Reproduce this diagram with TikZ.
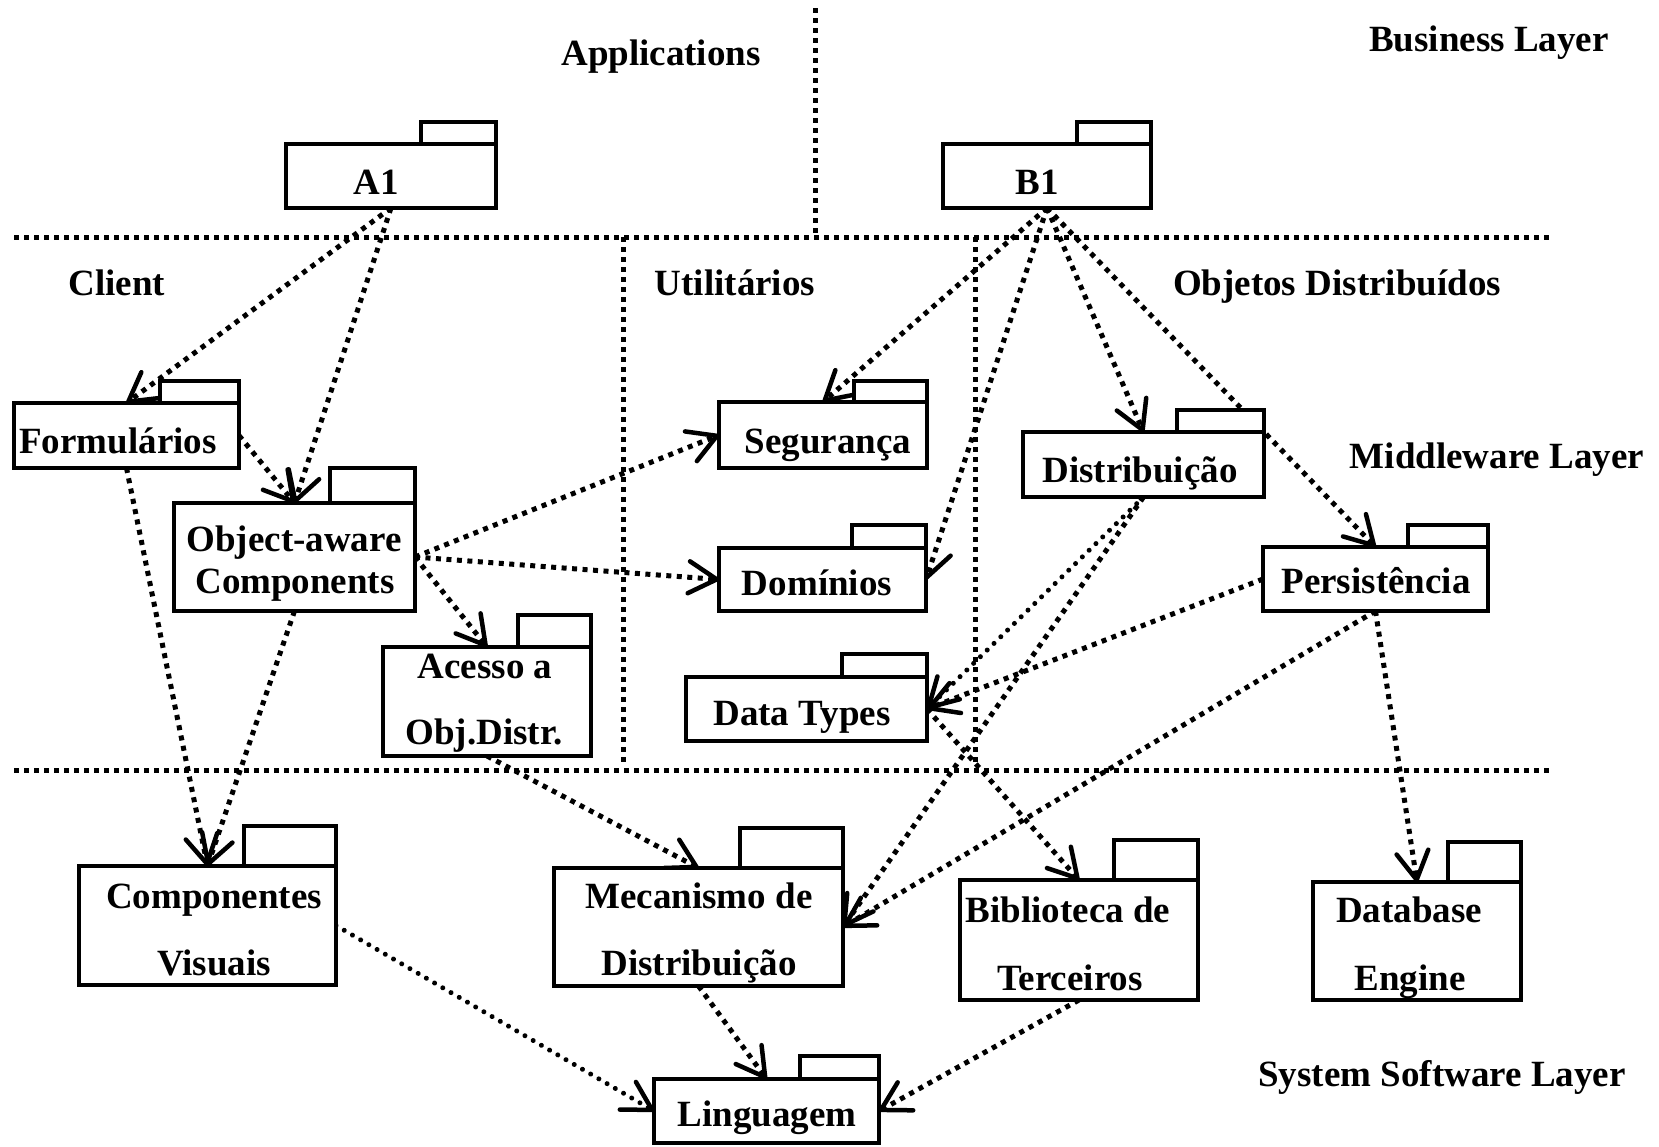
\documentclass[tikz,border=0pt]{standalone}
\usepackage{fontspec}
\setmainfont{Liberation Serif}
\usetikzlibrary{arrows.meta}
\pgfdeclarelayer{bg}
\pgfsetlayers{bg,main}
\tikzset{
  pkgbox/.style={draw, line width=4.5pt, fill=white, rectangle, inner sep=0pt, outer sep=0pt},
  pkgtab/.style={draw, line width=4.5pt, fill=white},
  lbl/.style={font=\fontsize{37}{44}\selectfont\bfseries, inner sep=0pt, anchor=base},
  sepline/.style={line width=5pt, dash pattern=on 5pt off 5pt},
  barb/.style={-{Straight Barb[length=28pt,width=32pt,line width=4.5pt,round]}},
  dep/.style={barb, line width=5pt, dash pattern=on 5pt off 5.5pt},
  deproundm/.style={barb, line width=5pt, line cap=round, dash pattern=on 0.01pt off 9.5pt},
}
% package symbol: name, left, top, right, bottom, tab left, tab top
\newcommand\umlpkg[7]{%
  \node[pkgbox, anchor=north west, minimum width={#4-#2}, minimum height={#5-#3}] (#1) at (#2,#3) {};
  \draw[pkgtab] (#6,#3) rectangle (#4,#7);
}
\begin{document}
\begin{tikzpicture}[x=1pt, y=-1pt]
\useasboundingbox (0,0) rectangle (1659,1146);

% packages
\umlpkg{a1}{286}{144}{496}{208}{421}{122}
\umlpkg{b1}{943}{144}{1151}{208}{1077}{122}
\umlpkg{frm}{14}{403}{239}{468}{160}{381}
\umlpkg{oac}{174}{503}{415}{611}{330}{468}
\umlpkg{seg}{719}{402}{927}{468}{854}{381}
\umlpkg{dom}{719}{548}{926}{611}{852}{525}
\umlpkg{dist}{1023}{432}{1264}{497}{1177}{410}
\umlpkg{pers}{1263}{547}{1488}{611}{1408}{525}
\umlpkg{dt}{686}{677}{927}{741}{842}{654}
\umlpkg{acc}{383}{647}{591}{756}{518}{615}
\umlpkg{cv}{79}{866}{336}{985}{244}{826}
\umlpkg{mec}{554}{868}{843}{986}{740}{828}
\umlpkg{bib}{960}{880}{1198}{1000}{1114}{840}
\umlpkg{db}{1313}{882}{1521}{1000}{1448}{842}
\umlpkg{ling}{654}{1079}{879}{1143}{800}{1056}

% package names
\node[lbl] (a1t) at (376,194) {A1};
\node[lbl] (b1t) at (1037,194) {B1};
\node[lbl] (frmt) at (118,453) {Formulários};
\node[lbl] (oact1) at (294,551) {Object-aware};
\node[lbl] (oact2) at (295,593) {Components};
\node[lbl] (segt) at (828,453) {Segurança};
\node[lbl] (domt) at (817,595) {Domínios};
\node[lbl] (distt) at (1140,482) {Distribuição};
\node[lbl] (perst) at (1376,593) {Persistência};
\node[lbl] (dtt) at (802,725) {Data Types};
\node[lbl] (acct1) at (485,678) {Acesso a};
\node[lbl] (acct2) at (484,744) {Obj.Distr.};
\node[lbl] (cvt1) at (214,908) {Componentes};
\node[lbl] (cvt2) at (214,975) {Visuais};
\node[lbl] (mect1) at (699,908) {Mecanismo de};
\node[lbl] (mect2) at (699,975) {Distribuição};
\node[lbl] (bibt1) at (1068,922) {Biblioteca de};
\node[lbl] (bibt2) at (1070,990) {Terceiros};
\node[lbl] (dbt1) at (1409,922) {Database};
\node[lbl] (dbt2) at (1410,990) {Engine};
\node[lbl] (lingt) at (767,1126) {Linguagem};

% layer and region titles
\node[lbl] (tapp) at (661,65) {Applications};
\node[lbl] (tbus) at (1489,51) {Business Layer};
\node[lbl] (tcli) at (117,295) {Client};
\node[lbl] (tutil) at (735,295) {Utilitários};
\node[lbl] (tobj) at (1337,295) {Objetos Distribuídos};
\node[lbl] (tmid) at (1497,468) {Middleware Layer};
\node[lbl] (tsys) at (1442,1086) {System Software Layer};

\begin{pgfonlayer}{bg}
  % layer separators
  \draw[sepline] (815,8) -- (815,237);
  \draw[sepline] (14,237) -- (1551,237);
  \draw[sepline] (623,237) -- (623,766);
  \draw[sepline] (975,237) -- (975,766);
  \draw[sepline] (14,770) -- (1551,770);

  % dependencies
  \draw[dep] (a1.south) -- (frm.north);
  \draw[dep] (a1.south) -- (oac.north);
  \draw[dep] (frm.east) -- (oac.north);
  \draw[dep] (frm.south) -- (cv.north);
  \draw[dep] (oac.south) -- (cv.north);
  \draw[dep] (oac.east) -- (seg.west);
  \draw[dep] (oac.east) -- (dom.west);
  \draw[dep] (oac.east) -- (acc.north);
  \draw[dep] (b1.south) -- (seg.north);
  \draw[dep] (b1.south) -- (dom.east);
  \draw[dep] (b1.south) -- (dist.north);
  \draw[dep] (b1.south) -- (pers.north);
  \draw[deproundm] (dist.south) -- (dt.east);
  \draw[dep] (dist.south) -- (mec.east);
  \draw[dep] (pers.west) -- (dt.east);
  \draw[dep] (pers.south) -- (mec.east);
  \draw[dep] (pers.south) -- (db.north);
  \draw[dep] (dt.east) -- (bib.north);
  \draw[dep] (acc.south) -- (mec.north);
  \draw[dep] (mec.south) -- (ling.north);
  \draw[deproundm] (cv.east) -- (ling.west);
  \draw[dep] (bib.south) -- (ling.east);
\end{pgfonlayer}
\end{tikzpicture}
\end{document}
